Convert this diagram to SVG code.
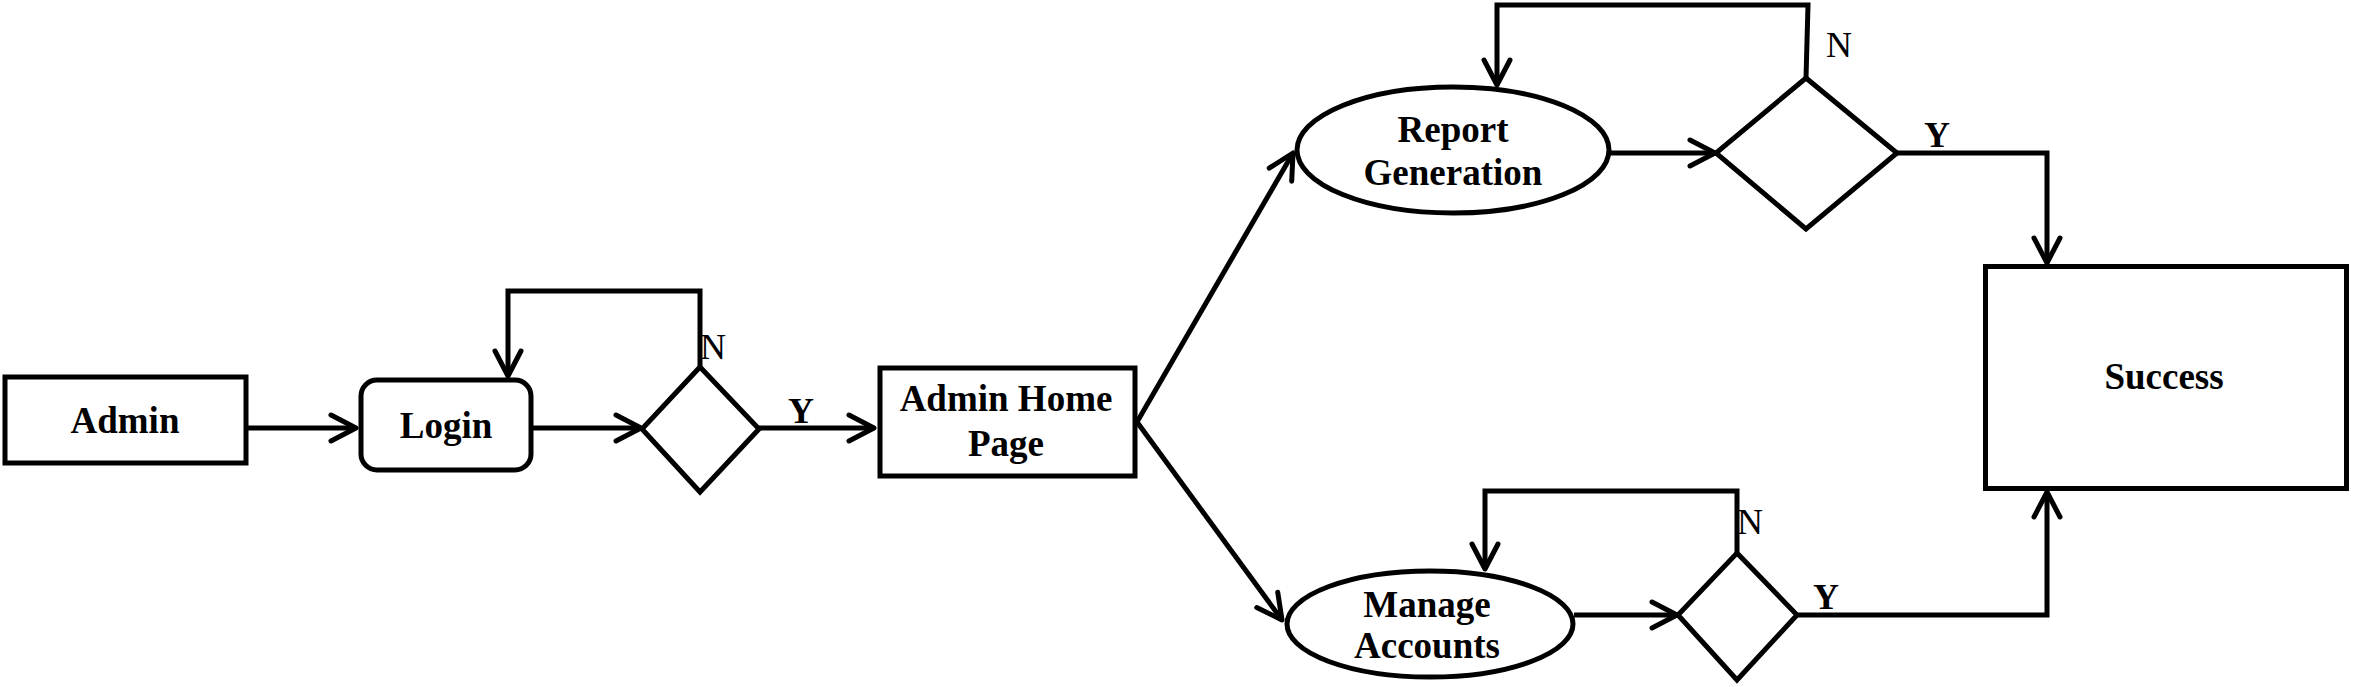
<svg xmlns="http://www.w3.org/2000/svg" width="2368" height="687" viewBox="0 0 2368 687">
<style>
.shape{fill:#fff;stroke:#000;stroke-width:5}
.conn{fill:none;stroke:#000;stroke-width:5;stroke-linejoin:miter}
.lbl{font-family:"Liberation Serif","Times New Roman",serif;font-weight:bold;font-size:37px;fill:#000;text-anchor:middle}
.yn{font-family:"Liberation Serif","Times New Roman",serif;font-size:36px;fill:#000}
.yb{font-weight:bold}
</style>
<defs>
<marker id="arr" viewBox="-32 -18 36 36" markerWidth="36" markerHeight="36" refX="0" refY="0" orient="auto" markerUnits="userSpaceOnUse">
<path d="M -25 -13 L 0 0 L -25 13" fill="none" stroke="#000" stroke-width="5" stroke-linecap="round" stroke-linejoin="round"/>
</marker>
</defs>
<rect width="2368" height="687" fill="#fff"/>
<g id="connectors">
<path class="conn" d="M 248 428 L 356 428" marker-end="url(#arr)"/>
<path class="conn" d="M 533 428 L 641 428" marker-end="url(#arr)"/>
<path class="conn" d="M 700 367 L 700 291 L 508 291 L 508 376" marker-end="url(#arr)"/>
<path class="conn" d="M 759 428 L 874 428" marker-end="url(#arr)"/>
<path class="conn" d="M 1137 422 L 1293 153" marker-end="url(#arr)"/>
<path class="conn" d="M 1137 422 L 1282 620" marker-end="url(#arr)"/>
<path class="conn" d="M 1611 153 L 1715 153" marker-end="url(#arr)"/>
<path class="conn" d="M 1806 78 L 1808 5 L 1497 5 L 1497 85" marker-end="url(#arr)"/>
<path class="conn" d="M 1897 153 L 2047 153 L 2047 263" marker-end="url(#arr)"/>
<path class="conn" d="M 1574 615 L 1677 615" marker-end="url(#arr)"/>
<path class="conn" d="M 1737 553 L 1737 491 L 1485 491 L 1485 569" marker-end="url(#arr)"/>
<path class="conn" d="M 1797 615 L 2047 615 L 2047 492" marker-end="url(#arr)"/>
<text class="yn" x="700" y="359">N</text>
<text class="yn yb" x="788" y="423">Y</text>
<text class="yn" x="1826" y="57">N</text>
<text class="yn yb" x="1924" y="147">Y</text>
<text class="yn" x="1737" y="534">N</text>
<text class="yn yb" x="1813" y="609">Y</text>
</g>
<g id="admin">
<rect class="shape" x="5" y="377" width="241" height="86"/>
<text class="lbl" x="125" y="433">Admin</text>
</g>
<g id="login">
<rect class="shape" x="361" y="380" width="170" height="90" rx="16" ry="16"/>
<text class="lbl" x="446" y="438">Login</text>
</g>
<g id="decision1">
<polygon class="shape" points="700,367 759,429 700,492 642,429"/>
</g>
<g id="admin-home">
<rect class="shape" x="880" y="368" width="255" height="108"/>
<text class="lbl" x="1006" y="411">Admin Home</text>
<text class="lbl" x="1006" y="456">Page</text>
</g>
<g id="report">
<ellipse class="shape" cx="1453" cy="150" rx="156" ry="63"/>
<text class="lbl" x="1453" y="142">Report</text>
<text class="lbl" x="1453" y="185">Generation</text>
</g>
<g id="decision2">
<polygon class="shape" points="1806,78 1897,153 1806,229 1716,153"/>
</g>
<g id="manage">
<ellipse class="shape" cx="1430" cy="624" rx="143" ry="53"/>
<text class="lbl" x="1427" y="617">Manage</text>
<text class="lbl" x="1427" y="658">Accounts</text>
</g>
<g id="decision3">
<polygon class="shape" points="1737,553 1797,615 1737,680 1678,615"/>
</g>
<g id="success">
<rect class="shape" x="1985.5" y="266.5" width="361" height="222"/>
<text class="lbl" x="2164" y="389">Success</text>
</g>
</svg>
